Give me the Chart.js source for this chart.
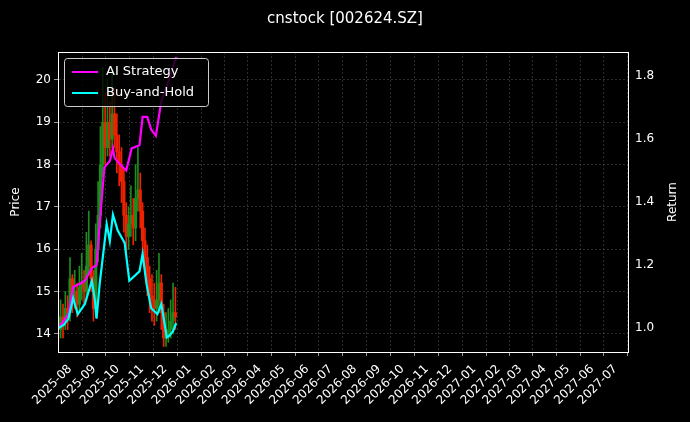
<!DOCTYPE html>
<html><head><meta charset="utf-8">
<script src="https://cdn.jsdelivr.net/npm/chart.js@4"></script>
<style>html,body{margin:0;background:#000;}#w{width:690px;height:422px;}</style>
</head><body><div id="w"><canvas id="c"></canvas></div>
<script>
// day offsets from 2025-08-01
const candleDays = [-15,-12,-9,-6,-3,0,3,6,9,12,15,18,21,24,27,30,33,36,39,42,45,48,51,54,57,60,63,66,69,72,75,78,81,84,87,90,93,96,99,102,105,108,111,114,117,120,123,126,129,132,135];
const closes = [14.1,14.4,14.3,14.6,14.5,15.3,14.8,15.0,14.7,15.1,15.2,15.0,15.6,16.1,15.3,14.6,16.0,16.8,18.0,19.0,18.4,19.0,18.6,19.2,18.7,18.3,18.0,17.6,16.8,16.3,16.6,16.8,16.5,17.2,17.4,16.9,16.2,15.8,15.3,14.9,14.8,14.6,14.8,15.2,14.5,13.9,14.0,14.1,14.3,14.5,14.4];
const opens  = [14.3,14.1,14.4,14.3,14.6,14.5,15.3,14.8,15.0,14.7,15.1,15.2,15.0,15.6,16.1,15.3,14.6,16.0,16.8,18.0,19.0,18.4,19.0,18.6,19.2,18.7,18.3,18.0,17.6,16.8,16.3,16.6,16.8,16.5,17.2,17.4,16.9,16.2,15.8,15.3,14.9,14.8,14.6,14.8,15.2,14.5,13.9,14.0,14.1,14.3,14.5];
const highs  = [14.8,14.8,14.7,15.0,14.9,15.8,15.4,15.5,15.2,15.6,15.9,15.5,16.4,16.9,16.2,15.5,16.6,17.6,18.9,20.3,19.7,20.0,19.5,20.2,19.8,19.2,18.7,18.4,17.9,17.1,17.0,17.5,17.2,18.0,18.4,17.8,17.1,16.5,16.1,15.6,15.4,15.2,15.5,15.9,15.4,14.7,14.5,14.6,14.8,15.2,15.1];
const lows   = [13.8,13.9,13.9,14.1,14.1,14.3,14.5,14.6,14.4,14.5,14.8,14.7,14.8,15.4,15.0,14.3,14.4,15.7,16.5,17.7,18.0,18.2,18.2,18.4,18.4,17.8,17.5,17.1,16.4,15.9,16.0,16.3,16.1,16.2,16.9,16.5,15.9,15.4,14.9,14.5,14.3,14.2,14.3,14.5,14.1,13.7,13.7,13.8,13.9,14.0,14.1];
const aiDays = [-15,-9,-2,4,12,19,28,34,38,44,51,55,57,64,72,79,89,93,99,104,110,117,127,136];
const aiRet  = [1.0,1.02,1.044,1.13,1.14,1.15,1.19,1.20,1.33,1.51,1.53,1.57,1.54,1.52,1.50,1.57,1.58,1.67,1.67,1.63,1.61,1.72,1.79,1.86];
const bhDays = [-15,-8,-2,4,10,19,28,32,34,38,47,51,55,61,70,76,89,93,98,104,112,117,124,127,132,136];
const bhRet  = [1.0,1.01,1.03,1.095,1.044,1.076,1.15,1.086,1.03,1.14,1.33,1.276,1.36,1.31,1.27,1.15,1.18,1.235,1.14,1.063,1.044,1.076,0.97,0.975,0.99,1.016];
const monthLabels = ['2025-08','2025-09','2025-10','2025-11','2025-12','2026-01','2026-02','2026-03','2026-04','2026-05','2026-06','2026-07','2026-08','2026-09','2026-10','2026-11','2026-12','2027-01','2027-02','2027-03','2027-04','2027-05','2027-06','2027-07'];

const base = Date.UTC(2025,7,1);
const monthPos = monthLabels.map(m=>{const [y,mo]=m.split('-').map(Number);return (Date.UTC(y,mo-1,1)-base)/86400000;});
const posToLabel = {}; monthPos.forEach((p,i)=>posToLabel[p]=monthLabels[i]);
const up = closes.map((c,i)=>c>=opens[i]);
const colUp='#1e8c1e', colDn='#ee2200';
const F='"DejaVu Sans"';

const deco={id:'deco',afterDraw(ch){
  const ctx=ch.ctx,a=ch.chartArea;
  ctx.save();
  ctx.strokeStyle='#fff';ctx.lineWidth=1;ctx.strokeRect(a.left+0.5,a.top+0.5,a.width,a.height);
  ctx.fillStyle='#fff';ctx.textAlign='center';ctx.textBaseline='middle';
  ctx.font='15px '+F;ctx.fillText('cnstock [002624.SZ]',345,19);
  ctx.font='12px '+F;
  ctx.save();ctx.translate(16,(a.top+a.bottom)/2);ctx.rotate(-Math.PI/2);ctx.fillText('Price',0,0);ctx.restore();
  ctx.save();ctx.translate(673,(a.top+a.bottom)/2);ctx.rotate(-Math.PI/2);ctx.fillText('Return',0,0);ctx.restore();
  const x=a.left+6,y=a.top+6,w=144,h=48;
  ctx.fillStyle='rgba(0,0,0,0.8)';ctx.strokeStyle='#ccc';
  ctx.beginPath();ctx.roundRect(x+0.5,y+0.5,w,h,3);ctx.fill();ctx.stroke();
  const items=[['AI Strategy','#ff00ff'],['Buy-and-Hold','#00ffff']];
  ctx.font='13px '+F;ctx.textAlign='left';
  items.forEach((it,i)=>{const yy=y+14+i*21;ctx.strokeStyle=it[1];ctx.lineWidth=2;ctx.beginPath();ctx.moveTo(x+8,yy);ctx.lineTo(x+34,yy);ctx.stroke();ctx.fillStyle='#fff';ctx.fillText(it[0],x+42,yy);});
  ctx.restore();}};

const grid={color:'rgba(160,160,160,0.45)',lineWidth:0.6,tickColor:'#fff',tickLength:4};
new Chart(document.getElementById('c'),{
 data:{datasets:[
  {type:'bar',yAxisID:'y',grouped:false,barThickness:1,data:candleDays.map((d,i)=>({x:d,y:[lows[i],highs[i]]})),backgroundColor:up.map(u=>u?colUp:colDn),order:3},
  {type:'bar',yAxisID:'y',grouped:false,barThickness:2.5,data:candleDays.map((d,i)=>({x:d,y:[opens[i],closes[i]]})),backgroundColor:up.map(u=>u?colUp:colDn),order:2},
  {type:'line',label:'AI Strategy',yAxisID:'y1',data:aiDays.map((d,i)=>({x:d,y:aiRet[i]})),borderColor:'#ff00ff',borderWidth:2.2,pointRadius:0,tension:0,order:1},
  {type:'line',label:'Buy-and-Hold',yAxisID:'y1',data:bhDays.map((d,i)=>({x:d,y:bhRet[i]})),borderColor:'#00ffff',borderWidth:2.2,pointRadius:0,tension:0,order:0}
 ]},
 options:{responsive:true,maintainAspectRatio:false,animation:false,
  layout:{padding:{left:0,right:0,top:52,bottom:0}},
  plugins:{legend:{display:false},tooltip:{enabled:false},title:{display:false}},
  scales:{
   x:{type:'linear',min:-15.4,max:715,offset:false,
     afterBuildTicks(s){s.ticks=monthPos.map(v=>({value:v}));},
     afterFit(s){s.height=70;},
     ticks:{color:'#fff',maxRotation:45,minRotation:45,autoSkip:false,padding:6,font:{family:'DejaVu Sans',size:12},callback:v=>posToLabel[v]||''},
     grid:grid,border:{color:'#fff',dash:[2,2]}},
   y:{position:'left',min:13.57,max:20.66,
     afterBuildTicks(s){s.ticks=[14,15,16,17,18,19,20].map(v=>({value:v}));},
     afterFit(s){s.width=58;},
     ticks:{color:'#fff',font:{family:'DejaVu Sans',size:12}},
     grid:grid,border:{color:'#fff',dash:[2,2]}},
   y1:{position:'right',min:0.924,max:1.876,
     afterBuildTicks(s){s.ticks=[1.0,1.2,1.4,1.6,1.8].map(v=>({value:v}));},
     afterFit(s){s.width=62;},
     ticks:{color:'#fff',font:{family:'DejaVu Sans',size:12},callback:v=>v.toFixed(1)},
     grid:{display:false,tickColor:'#fff',tickLength:4},border:{color:'#fff'}}
  }},
 plugins:[deco]
});
</script></body></html>
